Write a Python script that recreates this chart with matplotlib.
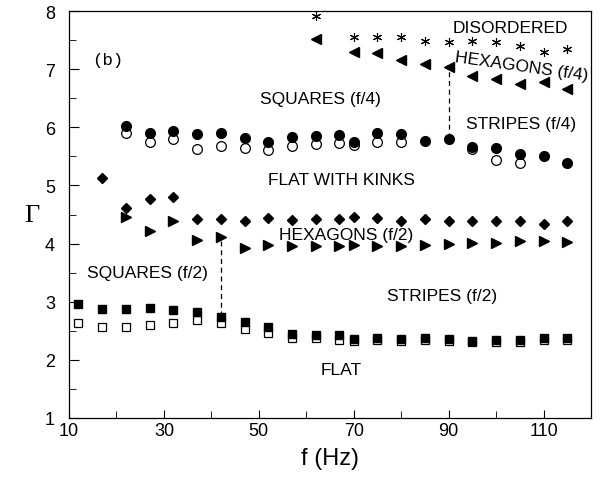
import matplotlib
matplotlib.use("Agg")
import matplotlib.pyplot as plt
from matplotlib.ticker import MultipleLocator

plt.rcParams['font.family'] = ['Liberation Sans', 'DejaVu Sans']

# flat -> squares (f/2) onset (filled) and return (open)
sq_f = [12, 17, 22, 27, 32, 37, 42, 47, 52, 57, 62, 67, 70, 75, 80, 85, 90, 95, 100, 105, 110, 115]
sq_fill = [2.96, 2.87, 2.87, 2.89, 2.86, 2.83, 2.74, 2.65, 2.57, 2.44, 2.43, 2.42, 2.36, 2.38, 2.36, 2.37, 2.36, 2.33, 2.35, 2.35, 2.37, 2.37]
sq_open = [2.64, 2.57, 2.57, 2.60, 2.63, 2.68, 2.63, 2.53, 2.47, 2.38, 2.38, 2.35, 2.32, 2.34, 2.33, 2.34, 2.33, 2.30, 2.31, 2.31, 2.35, 2.35]

# kinks -> squares/stripes (f/4)
ci_f = [22, 27, 32, 37, 42, 47, 52, 57, 62, 67, 70, 75, 80, 85, 90, 95, 100, 105, 110, 115]
ci_fill = [6.03, 5.90, 5.93, 5.88, 5.90, 5.82, 5.74, 5.83, 5.85, 5.86, 5.75, 5.90, 5.88, 5.77, 5.80, 5.66, 5.64, 5.54, 5.51, 5.39]
ci_open_f = [22, 27, 32, 37, 42, 47, 52, 57, 62, 67, 70, 75, 80, 95, 100, 105]
ci_open = [5.91, 5.75, 5.79, 5.63, 5.67, 5.65, 5.61, 5.68, 5.71, 5.73, 5.70, 5.74, 5.74, 5.62, 5.43, 5.39]

# hexagons (f/2)
di_f = [17, 22, 27, 32, 37, 42, 47, 52, 57, 62, 67, 70, 75, 80, 85, 90, 95, 100, 105, 110, 115]
di_val = [5.13, 4.62, 4.76, 4.80, 4.42, 4.42, 4.38, 4.44, 4.40, 4.42, 4.42, 4.46, 4.44, 4.38, 4.42, 4.39, 4.39, 4.39, 4.39, 4.33, 4.38]

tr_f = [22, 27, 32, 37, 42, 47, 52, 57, 62, 67, 70, 75, 80, 85, 90, 95, 100, 105, 110, 115]
tr_val = [4.45, 4.22, 4.38, 4.06, 4.11, 3.93, 3.98, 3.95, 3.95, 3.95, 3.98, 3.95, 3.95, 3.98, 3.99, 4.01, 4.01, 4.05, 4.05, 4.03]

# hexagons (f/4) and disordered
hx_f = [62, 70, 75, 80, 85, 90, 95, 100, 105, 110, 115]
hx_val = [7.51, 7.29, 7.27, 7.15, 7.09, 7.03, 6.88, 6.83, 6.75, 6.78, 6.66]
dis_val = [7.92, 7.55, 7.55, 7.56, 7.49, 7.46, 7.48, 7.46, 7.40, 7.30, 7.35]

# dashed phase boundaries: (f, Γ low, Γ high)
bounds = [(42, 2.75, 4.05), (90, 5.82, 7.0)]

xticks = [10, 30, 50, 70, 90, 110]

labels = [
    (63, 6.5, "SQUARES (f/4)", 0),
    (103, 7.72, "DISORDERED", 0),
    (105.3, 7.06, "HEXAGONS (f/4)", -8),
    (105.2, 6.06, "STRIPES (f/4)", 0),
    (67.4, 5.10, "FLAT WITH KINKS", 0),
    (68.5, 4.16, "HEXAGONS (f/2)", 0),
    (26.5, 3.50, "SQUARES (f/2)", 0),
    (88.6, 3.10, "STRIPES (f/2)", 0),
    (67.4, 1.84, "FLAT", 0),
]

fig = plt.figure(figsize=(6.03, 4.81), dpi=100)
ax = fig.add_axes([69 / 603, 62 / 481, 522 / 603, 407 / 481])

for f, lo, hi in bounds:
    ax.plot([f, f], [lo, hi], color='black', ls=(0, (4, 3)), lw=0.9, zorder=1)

ax.plot(sq_f, sq_open, ls='none', marker='s', ms=6.3, mfc='white', mec='black', mew=0.9, zorder=2)
ax.plot(sq_f, sq_fill, ls='none', marker='s', ms=6.3, color='black', zorder=3)
ax.plot(ci_open_f, ci_open, ls='none', marker='o', ms=7, mfc='white', mec='black', mew=0.9, zorder=2)
ax.plot(ci_f, ci_fill, ls='none', marker='o', ms=7, color='black', zorder=3)
ax.plot(di_f, di_val, ls='none', marker='D', ms=5.5, color='black', zorder=3)
ax.plot(tr_f, tr_val, ls='none', marker='>', ms=7.5, color='black', zorder=3)
ax.plot(hx_f, hx_val, ls='none', marker='<', ms=7.5, color='black', zorder=3)
ax.plot(hx_f, dis_val, ls='none', marker=(6, 2, 0), ms=6.5, color='black', mew=0.8, zorder=3)

for x, y, s, rot in labels:
    ax.text(x, y, s, ha='center', va='center', fontsize=12.5, rotation=rot,
            rotation_mode='anchor', zorder=4)
ax.text(18.2, 7.17, "(b)", ha='center', va='center', fontsize=12.5,
        family=['Liberation Mono', 'DejaVu Sans Mono'])

ax.set_xlim(10, 120)
ax.set_ylim(1, 8)
ax.set_xticks(xticks)
ax.xaxis.set_minor_locator(MultipleLocator(10))
ax.yaxis.set_major_locator(MultipleLocator(1))
ax.yaxis.set_minor_locator(MultipleLocator(0.5))
ax.tick_params(which='both', direction='in', labelsize=13)
ax.tick_params(axis='x', which='major', length=6, pad=3)
ax.tick_params(axis='x', which='minor', length=5)
ax.tick_params(axis='y', which='major', length=7, pad=10)
ax.tick_params(axis='y', which='minor', length=5)
for sp in ax.spines.values():
    sp.set_linewidth(0.9)

ax.set_xlabel("f (Hz)", fontsize=17)
ax.xaxis.set_label_coords(0.5, -0.072)
ax.set_ylabel("Γ", fontsize=19, rotation=0, va='center',
              family=['Liberation Serif', 'DejaVu Serif'])
ax.yaxis.set_label_coords(-0.072, 0.5)

fig.savefig("out.png", dpi=100)
